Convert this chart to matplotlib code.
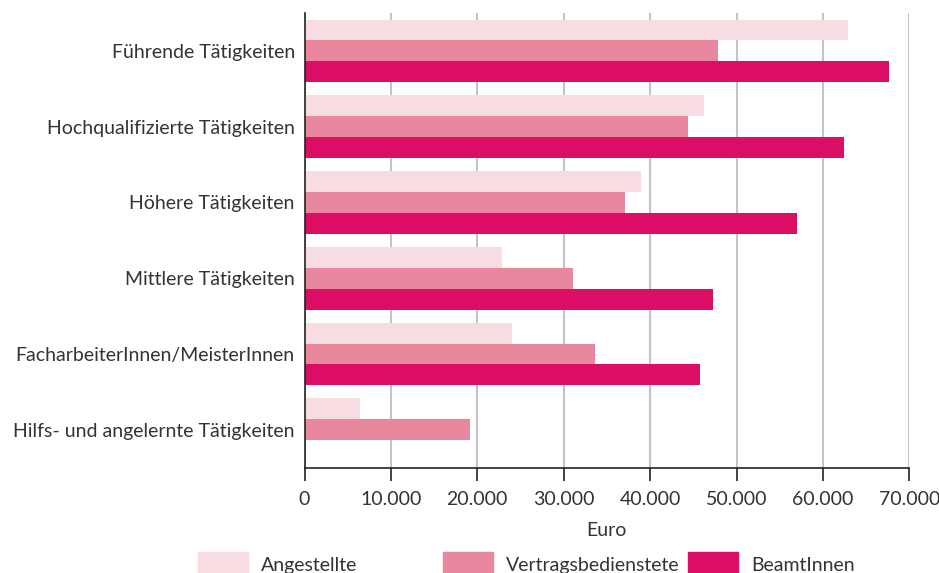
import matplotlib
matplotlib.use("Agg")
import matplotlib.pyplot as plt
from matplotlib.patches import Patch
from matplotlib.ticker import FuncFormatter
import numpy as np

plt.rcParams["font.family"] = ["Lato", "DejaVu Sans"]

categories = [
    "Führende Tätigkeiten",
    "Hochqualifizierte Tätigkeiten",
    "Höhere Tätigkeiten",
    "Mittlere Tätigkeiten",
    "FacharbeiterInnen/MeisterInnen",
    "Hilfs- und angelernte Tätigkeiten",
]
angestellte = [62900, 46200, 39000, 22900, 24000, 6400]
vertragsbedienstete = [47800, 44400, 37100, 31100, 33600, 19100]
beamtinnen = [67600, 62400, 57000, 47300, 45800, 0]

series = [
    ("Angestellte", angestellte, "#f7dce1"),
    ("Vertragsbedienstete", vertragsbedienstete, "#e8879e"),
    ("BeamtInnen", beamtinnen, "#db0d64"),
]

text_color = "#333333"
fs = 14

fig = plt.figure(figsize=(9.39, 5.73), dpi=100)
ax = fig.add_axes([0.3243, 0.1838, 0.6441, 0.7935])

y = np.arange(len(categories))
h = 0.276
for i, (name, vals, color) in enumerate(series):
    ax.barh(y + (i - 1) * h, vals, height=h, color=color, label=name, zorder=2)

ax.set_xlim(0, 70000)
ax.set_ylim(len(categories) - 0.5, -0.5)
ax.set_xticks(np.arange(0, 70001, 10000))
ax.xaxis.set_major_formatter(FuncFormatter(lambda v, p: f"{int(v):,}".replace(",", ".")))
ax.set_yticks(y)
ax.set_yticklabels(categories)

ax.grid(axis="x", color="#c4c4c4", linewidth=1.5, zorder=0)
ax.set_axisbelow(True)
for s in ["top", "right"]:
    ax.spines[s].set_visible(False)
for s in ["left", "bottom"]:
    ax.spines[s].set_color("#222222")
    ax.spines[s].set_linewidth(1.2)

ax.tick_params(axis="x", direction="out", length=9, width=1.2, color="#222222",
               labelsize=fs, labelcolor=text_color, pad=8)
ax.tick_params(axis="y", length=0, labelsize=fs, labelcolor=text_color, pad=7)
ax.set_xlabel("Euro", fontsize=fs, color=text_color, labelpad=10)

# legend: three entries at fixed spacing, slightly cut off at the bottom
xs = [0.211, 0.472, 0.733]
for (name, vals, color), x0 in zip(series, xs):
    fig.legend(handles=[Patch(color=color)], labels=[name], loc="upper left",
               bbox_to_anchor=(x0, 0.037), frameon=False, fontsize=fs,
               handlelength=2.55, handleheight=1.6, handletextpad=0.7,
               labelcolor=text_color, borderpad=0, borderaxespad=0)

fig.savefig("out.png", dpi=100)
